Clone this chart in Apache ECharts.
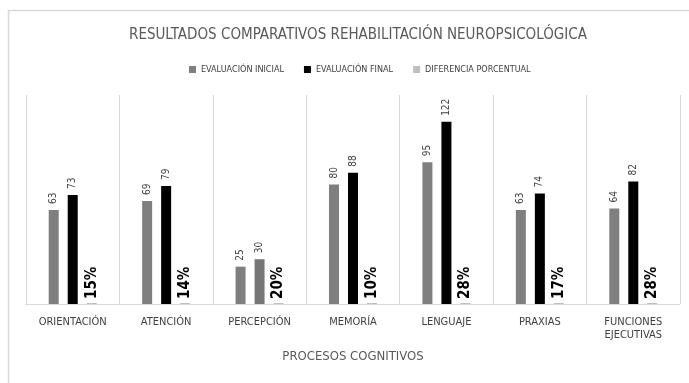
<!DOCTYPE html>
<html>
<head>
<meta charset="utf-8">
<script src="https://cdn.jsdelivr.net/npm/echarts@6/dist/echarts.min.js"></script>
<style>
  html, body { margin: 0; padding: 0; background: #fff; }
  #chart { width: 689px; height: 383px; }
</style>
</head>
<body>
<div id="chart"></div>
<script>
const FONT = "'DejaVu Sans Condensed', 'Liberation Sans Narrow', 'Roboto', sans-serif";

const categories = ['ORIENTACIÓN', 'ATENCIÓN', 'PERCEPCIÓN', 'MEMORÍA', 'LENGUAJE', 'PRAXIAS', 'FUNCIONES\nEJECUTIVAS'];
const inicial = [63, 69, 25, 80, 95, 63, 64];
const final = [73, 79, 30, 88, 122, 74, 82];
const diferencia = [0.15, 0.14, 0.20, 0.10, 0.28, 0.17, 0.28];

const chart = echarts.init(document.getElementById('chart'));

const valueLabel = {
  show: true,
  position: 'top',
  rotate: 90,
  align: 'left',
  verticalAlign: 'middle',
  distance: 6,
  color: '#404040',
  fontFamily: FONT,
  fontSize: 10,
};

const option = {
  backgroundColor: '#fff',
  animation: false,
  title: {
    text: 'RESULTADOS COMPARATIVOS REHABILITACIÓN NEUROPSICOLÓGICA',
    left: 124,
    top: 23,
    textStyle: {
      color: '#595959',
      fontFamily: FONT,
      fontSize: 15,
      fontWeight: 'normal',
    },
  },
  legend: {
    top: 60,
    left: 184,
    itemWidth: 7,
    itemHeight: 7,
    itemGap: 20,
    icon: 'rect',
    textStyle: { color: '#404040', fontFamily: FONT, fontSize: 9 },
  },
  grid: {
    left: 26,
    right: 9,
    top: 95,
    bottom: 79,
  },
  xAxis: {
    type: 'category',
    data: categories,
    name: 'PROCESOS COGNITIVOS',
    nameLocation: 'middle',
    nameGap: 46,
    nameTextStyle: { color: '#595959', fontFamily: FONT, fontSize: 13 },
    axisLine: { lineStyle: { color: '#d9d9d9' } },
    axisTick: { show: false },
    axisLabel: {
      color: '#404040',
      fontFamily: FONT,
      fontSize: 11,
      margin: 12,
      lineHeight: 13,
      interval: 0,
    },
    splitLine: { show: true, interval: 0, lineStyle: { color: '#d9d9d9' } },
  },
  yAxis: {
    type: 'value',
    min: 0,
    max: 140,
    show: false,
  },
  series: [
    {
      name: 'EVALUACIÓN INICIAL',
      type: 'bar',
      data: inicial,
      barWidth: 10,
      barGap: '90%',
      itemStyle: { color: '#7f7f7f' },
      label: valueLabel,
    },
    {
      name: 'EVALUACIÓN FINAL',
      type: 'bar',
      // la barra de percepción aparece gris en el original
      data: final.map((v, i) => (i === 2 ? { value: v, itemStyle: { color: '#767676' } } : v)),
      barWidth: 10,
      itemStyle: { color: '#000000' },
      label: valueLabel,
    },
    {
      name: 'DIFERENCIA PORCENTUAL',
      type: 'bar',
      data: diferencia,
      barWidth: 10,
      barMinHeight: 1,
      itemStyle: { color: '#bfbfbf' },
      label: {
        show: true,
        position: 'top',
        rotate: 90,
        align: 'left',
        verticalAlign: 'middle',
        distance: 4,
        color: '#000',
        fontFamily: FONT,
        fontSize: 15,
        fontWeight: 'bold',
        formatter: (p) => Math.round(p.value * 100) + '%',
      },
    },
  ],
  graphic: [
    {
      type: 'rect',
      shape: { x: 8.5, y: 10.5, width: 700, height: 390 },
      style: { fill: 'none', stroke: '#d9d9d9', lineWidth: 1.5 },
      silent: true,
    },
  ],
};

chart.setOption(option);
</script>
</body>
</html>
